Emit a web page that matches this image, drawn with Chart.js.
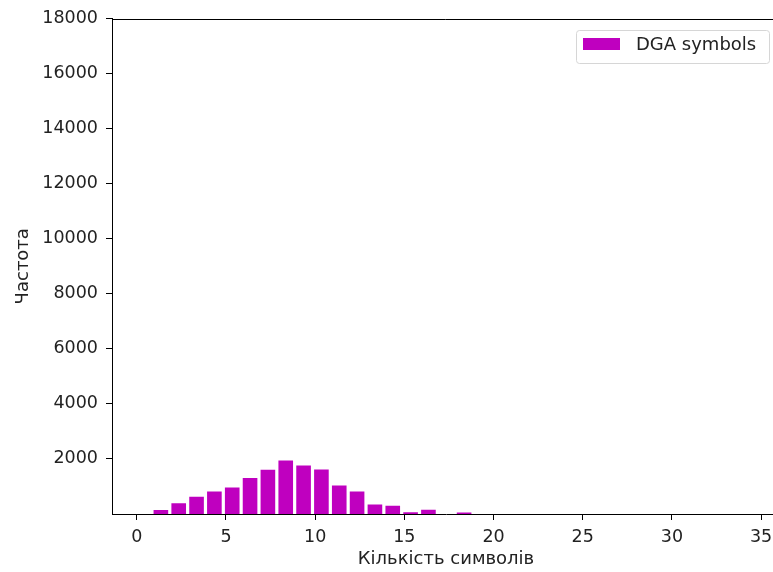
<!DOCTYPE html>
<html>
<head>
<meta charset="utf-8">
<script src="https://cdn.jsdelivr.net/npm/chart.js@4"></script>
<style>
    html, body { margin: 0; padding: 0; background: #fff; overflow: hidden; }
    #wrap { width: 773px; height: 572px; overflow: hidden; }
</style>
</head>
<body>
<div id="wrap"><canvas id="chart" width="790" height="572"></canvas></div>
<script>
// symbol count bins (left edge of each bin) and their frequencies
const binStarts = [1, 2, 3, 4, 5, 6, 7, 8, 9, 10, 11, 12, 13, 14, 15, 16, 17, 18];
const frequencies = [145, 388, 625, 820, 965, 1306, 1605, 1945, 1760, 1615, 1035, 820, 345, 300, 60, 155, 0, 55];
const binOffset = 0.35; // bars sit a bit right of the integer
const xTicks = [0, 5, 10, 15, 20, 25, 30, 35];
const yTicks = [2000, 4000, 6000, 8000, 10000, 12000, 14000, 16000, 18000];
const seriesLabel = 'DGA symbols';
const barColor = 'rgb(191, 0, 191)';

const FONT = 'DejaVu Sans';
const textColor = '#222';

// top + right spines like matplotlib
const frameBox = {
    id: 'frameBox',
    afterDraw(chart) {
        const { ctx, chartArea } = chart;
        const top = Math.round(chartArea.top) + 0.5;
        const right = Math.round(chartArea.right) - 0.5;
        ctx.save();
        ctx.strokeStyle = '#000';
        ctx.lineWidth = 1;
        ctx.beginPath();
        ctx.moveTo(chartArea.left, top);
        ctx.lineTo(right, top);
        ctx.lineTo(right, chartArea.bottom);
        ctx.stroke();
        ctx.restore();
    }
};

// legend box in the upper right corner
const cornerLegend = {
    id: 'cornerLegend',
    afterDraw(chart) {
        const { ctx, chartArea } = chart;
        const ds = chart.data.datasets[0];
        const w = 193, h = 33, r = 3;
        const x = Math.round(chartArea.right) - 11 - w;
        const y = Math.round(chartArea.top) + 11;
        ctx.save();
        ctx.beginPath();
        ctx.roundRect(x + 0.5, y + 0.5, w, h, r);
        ctx.fillStyle = 'rgba(255,255,255,0.8)';
        ctx.fill();
        ctx.strokeStyle = '#d6d6d6';
        ctx.lineWidth = 1;
        ctx.stroke();
        ctx.fillStyle = ds.backgroundColor;
        ctx.fillRect(x + 7, y + 8, 37, 12);
        ctx.fillStyle = textColor;
        ctx.font = `18px "${FONT}"`;
        ctx.textBaseline = 'middle';
        ctx.textAlign = 'left';
        ctx.fillText(ds.label, x + 60, y + 15);
        ctx.restore();
    }
};

const plain = v => String(v);

new Chart(document.getElementById('chart'), {
    type: 'bar',
    data: {
        datasets: [{
            label: seriesLabel,
            data: binStarts.map((b, i) => ({ x: b + binOffset, y: frequencies[i] })),
            backgroundColor: barColor,
            borderWidth: 0,
            categoryPercentage: 1.0,
            barPercentage: 0.82
        }]
    },
    options: {
        responsive: false,
        animation: false,
        devicePixelRatio: 1,
        layout: { padding: { top: 18, right: 10, left: 0, bottom: 0 } },
        plugins: {
            legend: { display: false },
            tooltip: { enabled: false }
        },
        scales: {
            x: {
                type: 'linear',
                offset: false,
                min: -1.39,
                max: 36.06,
                afterBuildTicks: s => { s.ticks = xTicks.map(v => ({ value: v })); },
                afterFit: s => { s.height = 58; },
                grid: { display: true, offset: false, drawOnChartArea: false, drawTicks: true, tickLength: 6, tickColor: '#000', tickWidth: 1 },
                border: { display: true, color: '#000', width: 1 },
                ticks: { color: textColor, font: { family: FONT, size: 17.5 }, padding: 7, maxRotation: 0, callback: plain },
                title: {
                    display: true,
                    text: 'Кількість символів',
                    color: textColor,
                    font: { family: FONT, size: 18 },
                    padding: { top: 0, bottom: 2 }
                }
            },
            y: {
                min: 0,
                max: 18000,
                afterBuildTicks: s => { s.ticks = yTicks.map(v => ({ value: v })); },
                afterFit: s => { s.width = 112; },
                grid: { display: true, drawOnChartArea: false, drawTicks: true, tickLength: 6, tickColor: '#000', tickWidth: 1 },
                border: { display: true, color: '#000', width: 1 },
                ticks: { color: textColor, font: { family: FONT, size: 17.5 }, padding: 8, callback: plain },
                title: {
                    display: true,
                    text: 'Частота',
                    color: textColor,
                    font: { family: FONT, size: 18 },
                    padding: { top: 13, bottom: 0 }
                }
            }
        }
    },
    plugins: [frameBox, cornerLegend]
});
</script>
</body>
</html>
